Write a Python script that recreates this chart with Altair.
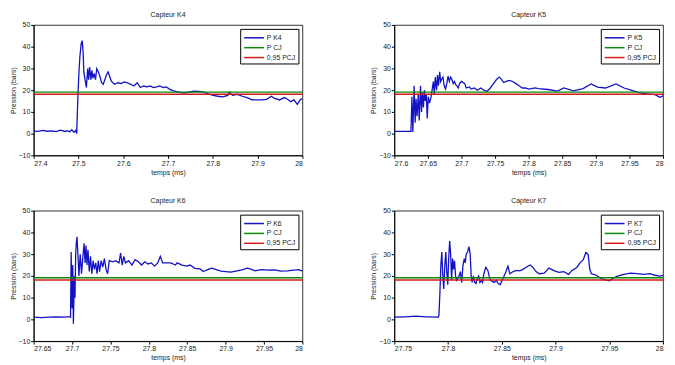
import altair as alt
import pandas as pd

# ---------------- data ----------------
PCJ = 19.1
PCJ95 = 18.15

K4_T = [27.400, 27.410, 27.420, 27.430, 27.440, 27.450, 27.460, 27.470, 27.476, 27.480,
        27.485, 27.490, 27.494, 27.496, 27.4975, 27.4989, 27.5011, 27.5032, 27.5061, 27.5083,
        27.5105, 27.5119, 27.5141, 27.5177, 27.5206, 27.5227, 27.5249, 27.5278, 27.5299, 27.5321,
        27.5350, 27.5379, 27.5408, 27.5444, 27.5480, 27.5516, 27.5552, 27.5588, 27.5624, 27.5661,
        27.5697, 27.5733, 27.5805, 27.5877, 27.5950, 27.6022, 27.6094, 27.6166, 27.6238, 27.6311,
        27.6383, 27.6455, 27.6527, 27.6599, 27.6671, 27.6744, 27.6816, 27.6888, 27.6960, 27.7032,
        27.7105, 27.7177, 27.7249, 27.7357, 27.7466, 27.7574, 27.7682, 27.7791, 27.7899, 27.8007,
        27.8116, 27.8224, 27.8332, 27.8368, 27.8441, 27.8549, 27.8657, 27.8766, 27.8874, 27.8982,
        27.9091, 27.9199, 27.9307, 27.9379, 27.9488, 27.9596, 27.9668, 27.9740, 27.9812, 27.9885,
        27.9957, 28.000]
K4_P = [1.2, 1.0, 1.5, 1.1, 1.3, 0.9, 1.6, 1.0, 1.4, 0.8,
        1.8, 0.6, 1.5, 0.0, 9.7, 18.3, 28.4, 35.6, 41.4, 42.8,
        37.0, 28.4, 25.5, 21.2, 29.9, 24.8, 30.6, 24.8, 29.1, 25.5,
        27.7, 24.8, 29.9, 28.4, 26.3, 23.4, 22.7, 24.8, 27.0, 28.4,
        26.3, 24.1, 22.7, 23.4, 23.0, 23.8, 23.4, 22.7, 21.9, 23.4,
        21.2, 21.9, 21.5, 21.9, 21.2, 21.5, 21.9, 21.2, 21.5, 20.5,
        19.8, 19.4, 19.1, 18.6, 19.1, 19.5, 19.4, 19.1, 18.3, 17.6,
        17.2, 16.9, 17.6, 19.1, 17.6, 18.1, 17.2, 16.6, 15.5, 15.5,
        15.5, 15.8, 17.2, 16.2, 15.5, 16.6, 15.8, 14.7, 15.5, 13.5,
        15.8, 16.0]

K5_T = [27.600, 27.610, 27.620, 27.6248, 27.6262, 27.6276, 27.6295, 27.6310, 27.6324, 27.6338,
        27.6357, 27.6371, 27.6390, 27.6405, 27.6419, 27.6433, 27.6448, 27.6462, 27.6476, 27.6490,
        27.6505, 27.6524, 27.6548, 27.6562, 27.6581, 27.6595, 27.6610, 27.6629, 27.6643, 27.6657,
        27.6676, 27.6690, 27.6705, 27.6724, 27.6743, 27.6762, 27.6781, 27.6800, 27.6819, 27.6838,
        27.6857, 27.6876, 27.6895, 27.6914, 27.6933, 27.6952, 27.6971, 27.7000, 27.7048, 27.7071,
        27.7119, 27.7143, 27.7190, 27.7238, 27.7286, 27.7333, 27.7381, 27.7429, 27.7476, 27.7524,
        27.7562, 27.7595, 27.7629, 27.7667, 27.7714, 27.7762, 27.7810, 27.7857, 27.7905, 27.7952,
        27.8000, 27.8095, 27.8143, 27.8286, 27.8429, 27.8524, 27.8667, 27.8810, 27.8929, 27.9024,
        27.9143, 27.9300, 27.9420, 27.9524, 27.9643, 27.9762, 27.9881, 27.9952, 28.000]
K5_P = [1.0, 1.0, 1.0, 1.0, 17.0, 0.8, 22.0, 5.0, 16.0, 8.0,
        18.0, 6.0, 22.0, 10.0, 19.0, 12.0, 20.0, 15.0, 18.0, 7.0,
        17.0, 14.0, 17.0, 20.0, 24.0, 18.0, 26.0, 20.0, 27.0, 22.0,
        28.5, 24.0, 25.0, 26.0, 22.0, 20.5, 23.0, 26.5, 24.0, 26.0,
        25.0, 23.0, 24.0, 22.5, 22.0, 21.0, 23.0, 24.0, 23.0, 21.0,
        21.5, 20.5, 21.0, 20.0, 21.0, 20.0, 19.5, 21.0, 23.0, 25.0,
        26.0, 25.0, 23.5, 24.0, 24.5, 24.0, 23.0, 22.0, 21.0, 21.0,
        20.5, 21.0, 20.7, 20.3, 19.6, 21.0, 19.7, 20.7, 22.9, 21.4,
        21.0, 22.9, 21.0, 20.0, 18.9, 18.3, 17.9, 16.7, 17.4]

K6_T = [27.650, 27.660, 27.670, 27.680, 27.690, 27.697, 27.6980, 27.6988, 27.7000, 27.7009,
        27.7017, 27.7030, 27.7038, 27.7047, 27.7055, 27.7064, 27.7076, 27.7089, 27.7106, 27.7123,
        27.7139, 27.7156, 27.7169, 27.7181, 27.7194, 27.7207, 27.7224, 27.7240, 27.7257, 27.7274,
        27.7291, 27.7308, 27.7325, 27.7341, 27.7358, 27.7379, 27.7400, 27.7421, 27.7442, 27.7463,
        27.7484, 27.7526, 27.7568, 27.7611, 27.7632, 27.7653, 27.7674, 27.7695, 27.7737, 27.7779,
        27.7821, 27.7863, 27.7905, 27.7947, 27.7989, 27.8032, 27.8074, 27.8116, 27.8149, 27.8179,
        27.8221, 27.8284, 27.8347, 27.8368, 27.8432, 27.8495, 27.8537, 27.8600, 27.8667, 27.8710,
        27.8752, 27.8815, 27.8878, 27.8941, 27.9004, 27.9068, 27.9131, 27.9215, 27.9278, 27.9320,
        27.9383, 27.9467, 27.9551, 27.9636, 27.9720, 27.9804, 27.9888, 27.9952, 28.000]
K6_P = [1.0, 0.8, 1.0, 1.2, 1.0, 1.3, 1.0, 31.0, 5.0, 25.0,
        -2.0, 20.0, 10.0, 30.0, 35.0, 38.0, 30.0, 20.0, 30.0, 21.0,
        28.0, 35.0, 26.0, 34.0, 25.0, 32.0, 22.0, 29.0, 21.0, 27.0,
        23.0, 26.0, 21.0, 27.0, 22.0, 27.0, 24.0, 28.0, 23.0, 21.0,
        27.0, 26.5, 27.0, 26.0, 30.5, 25.0, 29.0, 26.0, 27.0, 25.0,
        27.5, 26.5, 25.0, 26.5, 25.5, 26.0, 24.5, 26.0, 29.0, 26.0,
        26.0, 26.0, 25.0, 26.0, 25.0, 24.5, 25.0, 23.5, 23.2, 22.0,
        22.7, 23.6, 22.9, 22.2, 22.0, 21.7, 22.2, 22.8, 23.6, 23.2,
        22.3, 22.9, 22.7, 22.8, 22.2, 22.3, 22.7, 22.9, 22.2]

K7_T = [27.750, 27.760, 27.770, 27.780, 27.790, 27.7909, 27.7915, 27.7924, 27.7933, 27.7942,
        27.7951, 27.7960, 27.7970, 27.7979, 27.7988, 27.7997, 27.8006, 27.8015, 27.8024, 27.8033,
        27.8042, 27.8051, 27.8060, 27.8070, 27.8079, 27.8091, 27.8103, 27.8115, 27.8127, 27.8139,
        27.8151, 27.8160, 27.8169, 27.8182, 27.8194, 27.8206, 27.8215, 27.8224, 27.8236, 27.8248,
        27.8260, 27.8273, 27.8285, 27.8297, 27.8309, 27.8321, 27.8333, 27.8351, 27.8370, 27.8382,
        27.8394, 27.8412, 27.8430, 27.8448, 27.8466, 27.8485, 27.8503, 27.8521, 27.8539, 27.8557,
        27.8575, 27.8606, 27.8636, 27.8666, 27.8697, 27.8727, 27.8763, 27.8788, 27.8818, 27.8848,
        27.8894, 27.8939, 27.8985, 27.9030, 27.9076, 27.9121, 27.9151, 27.9197, 27.9227, 27.9258,
        27.9282, 27.9303, 27.9318, 27.9333, 27.9379, 27.9424, 27.9470, 27.9500, 27.9530, 27.9576,
        27.9636, 27.9697, 27.9758, 27.9818, 27.9879, 27.9924, 27.9970, 28.000]
K7_P = [1.0, 1.2, 1.5, 1.2, 1.0, 1.0, 2.0, 12.0, 25.0, 31.0,
        20.0, 14.0, 25.0, 31.0, 22.0, 16.0, 28.0, 36.0, 30.0, 18.0,
        28.0, 23.0, 27.0, 20.0, 18.0, 19.0, 20.0, 22.0, 17.0, 25.0,
        28.0, 26.0, 30.0, 31.0, 33.5, 30.0, 20.0, 17.0, 20.0, 17.0,
        16.5, 19.0, 20.0, 17.0, 18.0, 17.0, 21.0, 24.0, 22.5, 20.0,
        18.0, 17.5, 17.0, 18.0, 16.5, 16.0, 18.0, 20.0, 22.0, 24.5,
        21.0, 22.0, 22.5, 22.3, 23.0, 24.0, 25.0, 24.0, 22.0, 21.0,
        21.3, 23.6, 22.4, 21.6, 22.0, 20.7, 22.4, 23.9, 26.0, 27.5,
        30.8, 29.9, 23.2, 21.0, 20.3, 18.8, 18.1, 17.7, 18.8, 19.9,
        20.7, 21.3, 21.0, 20.7, 21.0, 20.3, 19.9, 20.3]

PANELS = [
    ("K4", K4_T, K4_P, [27.4, 28.0], [27.4, 27.5, 27.6, 27.7, 27.8, 27.9, 28.0]),
    ("K5", K5_T, K5_P, [27.6, 28.0], [27.6, 27.65, 27.7, 27.75, 27.8, 27.85, 27.9, 27.95, 28.0]),
    ("K6", K6_T, K6_P, [27.65, 28.0], [27.65, 27.7, 27.75, 27.8, 27.85, 27.9, 27.95, 28.0]),
    ("K7", K7_T, K7_P, [27.75, 28.0], [27.75, 27.8, 27.85, 27.9, 27.95, 28.0]),
]
Y_TICKS = [-10, 0, 10, 20, 30, 40, 50]

BLUE = "#1212c4"
GREEN = "#0a8a0a"
RED = "#d41a1a"
FONT = "Liberation Sans"


def panel(name, ts, ps, dom, ticks):
    sig_label = f"P {name}"
    sig = pd.DataFrame({"t": ts, "p": ps, "serie": sig_label})
    ref = pd.DataFrame({
        "t": [dom[0], dom[1], dom[0], dom[1]],
        "p": [PCJ, PCJ, PCJ95, PCJ95],
        "serie": ["P CJ", "P CJ", "0,95 PCJ", "0,95 PCJ"],
    })
    x = alt.X("t:Q", scale=alt.Scale(domain=dom, nice=False, zero=False),
              axis=alt.Axis(values=ticks, format=".2~f", title="temps (ms)"))
    y = alt.Y("p:Q", scale=alt.Scale(domain=[-10, 50], nice=False, zero=False),
              axis=alt.Axis(values=Y_TICKS, title="Pression (bars)"))
    color = alt.Color(
        "serie:N",
        scale=alt.Scale(domain=[sig_label, "P CJ", "0,95 PCJ"], range=[BLUE, GREEN, RED]),
        legend=alt.Legend(title=None, orient="top-right", offset=4),
    )
    l1 = alt.Chart(sig).mark_line(strokeWidth=1.3, clip=True).encode(x=x, y=y, color=color)
    l2 = alt.Chart(ref).mark_line(strokeWidth=1.5).encode(x=x, y=y, color=color)
    return alt.layer(l1, l2).properties(width=272, height=132, title=f"Capteur {name}")


charts = [panel(*p) for p in PANELS]
row1 = alt.hconcat(charts[0], charts[1], spacing=63).resolve_scale(color="independent")
row2 = alt.hconcat(charts[2], charts[3], spacing=63).resolve_scale(color="independent")
chart = alt.vconcat(row1, row2, spacing=20).resolve_scale(color="independent").properties(
    padding=0, background="white"
).configure_view(stroke="#000000", strokeWidth=0.8).configure_axis(
    labelFont=FONT, titleFont=FONT, labelFontSize=7, titleFontSize=7,
    labelColor="#222222", titleColor="#222222", titleFontWeight="normal",
    domainColor="#000000", tickColor="#000000", tickSize=3, grid=False,
    labelPadding=1, titlePadding=2,
).configure_title(
    font=FONT, fontSize=7, fontWeight="normal", color="#222222", offset=3, anchor="middle"
).configure_legend(
    labelFont=FONT, labelFontSize=7, labelColor="#222222",
    strokeColor="#000000", fillColor="#ffffff", padding=3,
    symbolType="M-1,0H3", symbolSize=100, symbolStrokeWidth=1.5,
    rowPadding=1, labelOffset=12, cornerRadius=0,
)

chart.save("out.html", embed_options={"renderer": "svg", "actions": False})
